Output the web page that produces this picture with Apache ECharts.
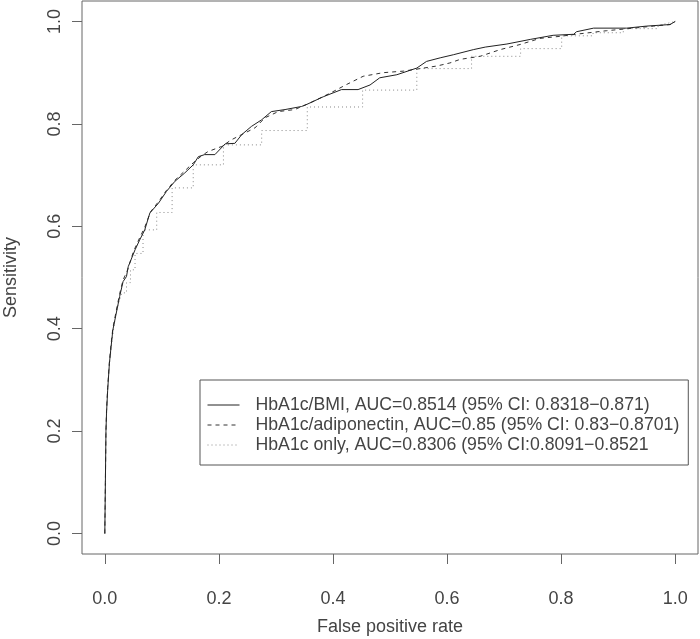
<!DOCTYPE html>
<html>
<head>
<meta charset="utf-8">
<script src="https://cdn.jsdelivr.net/npm/echarts@6/dist/echarts.min.js"></script>
<style>
html,body{margin:0;padding:0;background:#fff;}
#chart{width:700px;height:639px;}
</style>
</head>
<body>
<div id="chart"></div>
<script>
// ---- data ----
var seriesNames = [
  "HbA1c/BMI, AUC=0.8514 (95% CI: 0.8318\u22120.871)",
  "HbA1c/adiponectin, AUC=0.85 (95% CI: 0.83\u22120.8701)",
  "HbA1c only, AUC=0.8306 (95% CI:0.8091\u22120.8521"
];
var tickValues = [0, 0.2, 0.4, 0.6, 0.8, 1.0];

var bmiFPR = [0,0.001,0.002,0.003,0.005,0.008,0.011,0.014,0.020,0.026,0.032,0.038,0.041,0.053,0.061,0.070,0.079,0.094,0.108,0.123,0.140,0.155,0.164,0.175,0.193,0.211,0.228,0.240,0.257,0.275,0.292,0.316,0.345,0.354,0.383,0.415,0.444,0.465,0.482,0.512,0.547,0.564,0.588,0.611,0.646,0.667,0.705,0.746,0.786,0.822,0.827,0.857,0.915,0.950,0.991,1];
var bmiTPR = [0,0.10,0.20,0.235,0.28,0.332,0.365,0.397,0.430,0.463,0.492,0.502,0.521,0.554,0.573,0.593,0.626,0.645,0.668,0.688,0.704,0.720,0.736,0.740,0.740,0.761,0.762,0.779,0.795,0.808,0.824,0.828,0.834,0.838,0.853,0.867,0.867,0.876,0.890,0.896,0.909,0.922,0.929,0.935,0.945,0.950,0.956,0.965,0.973,0.975,0.980,0.987,0.987,0.991,0.994,1];

var adipoFPR = [0,0.001,0.002,0.003,0.005,0.008,0.011,0.014,0.020,0.026,0.032,0.040,0.050,0.060,0.070,0.080,0.094,0.108,0.123,0.140,0.155,0.170,0.181,0.205,0.222,0.263,0.281,0.304,0.333,0.360,0.395,0.424,0.453,0.488,0.523,0.547,0.582,0.605,0.623,0.658,0.693,0.728,0.763,0.798,0.833,0.880,0.927,0.962,0.991,1];
var adipoTPR = [0,0.10,0.20,0.24,0.285,0.335,0.37,0.40,0.435,0.468,0.495,0.515,0.55,0.575,0.598,0.628,0.648,0.670,0.690,0.708,0.724,0.738,0.746,0.756,0.769,0.792,0.812,0.824,0.828,0.841,0.860,0.877,0.893,0.900,0.903,0.907,0.913,0.919,0.926,0.932,0.945,0.955,0.967,0.971,0.976,0.982,0.987,0.991,0.994,1];

var onlyFPR = [0,0.001,0.002,0.004,0.006,0.009,0.013,0.018,0.024,0.030,0.038,0.038,0.045,0.045,0.053,0.053,0.067,0.067,0.091,0.091,0.118,0.118,0.155,0.155,0.208,0.208,0.275,0.275,0.355,0.355,0.452,0.452,0.547,0.547,0.643,0.643,0.729,0.729,0.801,0.801,0.856,0.856,0.909,0.909,0.970,0.970,1];
var onlyTPR = [0,0.10,0.20,0.26,0.30,0.34,0.38,0.42,0.45,0.47,0.47,0.49,0.49,0.515,0.515,0.547,0.547,0.593,0.593,0.627,0.627,0.675,0.675,0.720,0.720,0.759,0.759,0.787,0.787,0.833,0.833,0.866,0.866,0.908,0.908,0.932,0.932,0.947,0.947,0.972,0.972,0.978,0.978,0.986,0.986,0.992,1];

function pairs(xs, ys){ var out=[]; for(var i=0;i<xs.length;i++){ out.push([xs[i], ys[i]]); } return out; }

var FONT = "'Liberation Sans', Arial, Helvetica, sans-serif";
var chart = echarts.init(document.getElementById('chart'), null, {renderer:'canvas'});
chart.setOption({
  animation: false,
  backgroundColor: '#fff',
  textStyle: {fontFamily: FONT},
  grid: {left: 82, width: 616, top: 1, height: 553, show: true, borderColor: '#666', borderWidth: 1,
    backgroundColor: 'transparent', containLabel: false, outerBoundsMode: 'none'},
  xAxis: {
    type: 'value', min: -0.04, max: 1.04,
    name: 'False positive rate', nameLocation: 'middle', nameGap: 64,
    nameTextStyle: {fontSize: 18, color: '#444', fontFamily: FONT},
    axisLine: {show: false, onZero: false},
    splitLine: {show: false},
    axisTick: {show: true, inside: false, length: 10, customValues: tickValues, lineStyle: {color: '#666'}},
    axisLabel: {customValues: tickValues, fontSize: 18, color: '#444', margin: 36, fontFamily: FONT,
      formatter: function(v){ return v.toFixed(1); }}
  },
  yAxis: {
    type: 'value', min: -0.04, max: 1.04,
    name: 'Sensitivity', nameLocation: 'middle', nameGap: 62,
    nameTextStyle: {fontSize: 18, color: '#444', fontFamily: FONT},
    axisLine: {show: false, onZero: false},
    splitLine: {show: false},
    axisTick: {show: true, inside: false, length: 10, customValues: tickValues, lineStyle: {color: '#666'}},
    axisLabel: {customValues: tickValues, fontSize: 18, color: '#444', margin: 18, rotate: 90, fontFamily: FONT,
      formatter: function(v){ return v.toFixed(1); }}
  },
  legend: {
    orient: 'vertical', left: 200, top: 380,
    data: seriesNames,
    borderColor: '#555', borderWidth: 1, borderRadius: 0,
    padding: [15, 9, 10, 7],
    itemWidth: 32, itemHeight: 14, itemGap: 0,
    itemStyle: {opacity: 0},
    lineStyle: {width: 1},
    textStyle: {fontSize: 17.7, lineHeight: 20, color: '#444', fontFamily: FONT, padding: [0,0,0,11]},
    selectedMode: false
  },
  series: [
    {name: seriesNames[0], type: 'line', data: pairs(bmiFPR, bmiTPR), symbol: 'none', showSymbol: false,
      lineStyle: {color: '#222', width: 1, type: 'solid'}, z: 3},
    {name: seriesNames[1], type: 'line', data: pairs(adipoFPR, adipoTPR), symbol: 'none', showSymbol: false,
      lineStyle: {color: '#333', width: 1, type: [4, 4]}, z: 2},
    {name: seriesNames[2], type: 'line', data: pairs(onlyFPR, onlyTPR), symbol: 'none', showSymbol: false,
      lineStyle: {color: '#888', width: 1, type: [1, 3]}, z: 1}
  ]
});
</script>
</body>
</html>
